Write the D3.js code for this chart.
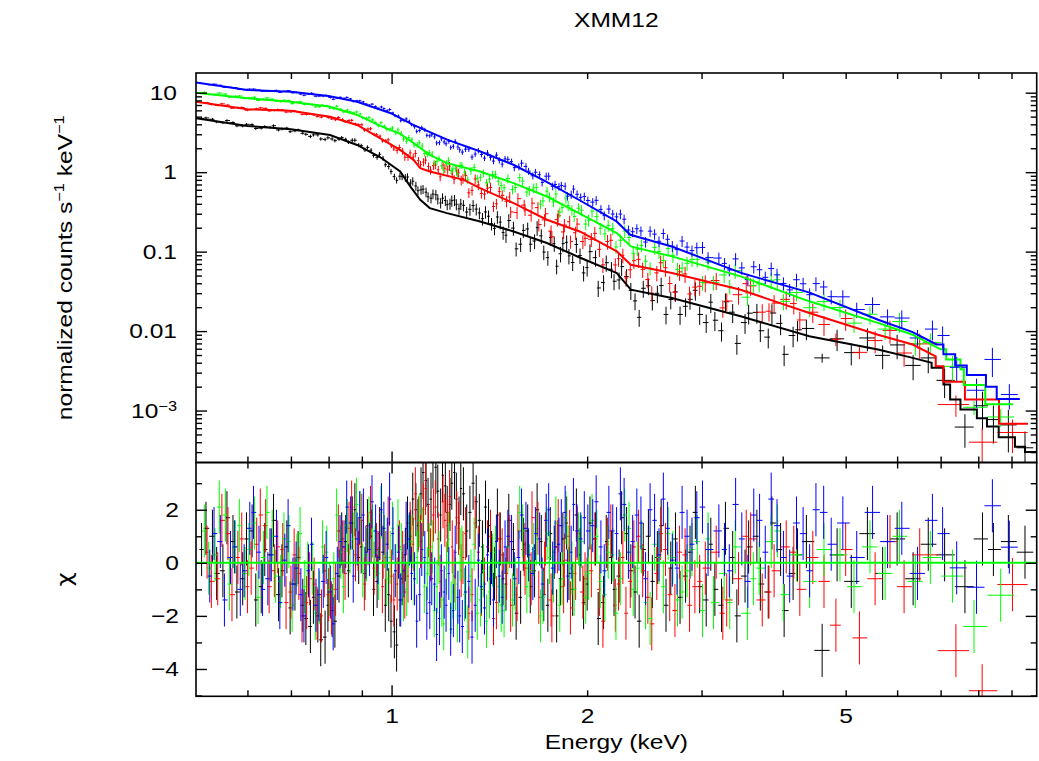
<!DOCTYPE html>
<meta charset="utf-8">
<style>
body { margin: 0; background: #fff; }
svg { display: block; background: #fff; }
text { font-family: "Liberation Sans", Arial, Helvetica, sans-serif; font-size: 21px; fill: #000; }
.frame { fill: none; stroke: #000; stroke-width: 1.6; }
.tick line { stroke: #000; stroke-width: 1.4; }
</style>
<svg width="1039" height="761"></svg>
<script src="https://cdn.jsdelivr.net/npm/d3@7"></script>
<script>

// ---- spectra (four instruments) ----
// energies are bin centres in keV, flux in normalized counts/s/keV,
// err is the 1-sigma error in percent of the flux, chi the delchi residual.
// Each instrument is given as two interleaved sets of bins (E and E2).

var blackE = [0.51,0.53,0.55,0.57,0.59,0.61,0.63,0.65,0.67,0.69,0.71,0.73,0.75,0.77,0.79,
  0.81,0.83,0.85,0.87,0.89,0.91,0.93,0.95,0.97,0.99,
  1.01,1.03,1.05,1.07,1.09,1.11,1.13,1.15,1.17,1.19,1.21,1.23,1.25,1.27,1.29,1.32,1.35,1.38,1.41,1.44,1.47,
  1.50,1.54,1.58,1.62,1.66,1.70,1.74,1.78,1.82,1.86,1.90,1.95,
  2.00,2.06,2.12,2.18,2.24,2.30,2.37,2.44,2.52,2.60,2.69,2.78,2.88,2.98,
  3.10,3.22,3.35,3.50,3.65,3.80,3.97,4.15,4.35,
  4.60,4.85,5.10,5.40,5.70,6.00,6.35,6.70,
  7.10,7.63,8.12,8.44,8.90,9.44];
var blackF = [4.74,4.63,4.20,4.21,3.82,3.96,3.58,3.68,3.40,3.58,3.31,3.09,2.82,2.95,2.58,
  2.62,2.61,2.59,2.52,2.19,1.91,1.89,1.54,1.50,1.18,
  0.88,0.89,0.85,0.73,0.67,0.60,0.56,0.47,0.52,0.41,0.44,0.40,0.445,0.346,0.383,0.341,0.343,0.26,0.279,0.196,0.235,
  0.161,0.198,0.124,0.193,0.136,0.158,0.084,0.126,0.094,0.131,0.073,0.0895,
  0.063,0.084,0.041,0.060,0.044,0.0485,0.024,0.0346,0.0242,0.0375,0.0250,0.0162,0.0251,0.0162,
  0.0231,0.0101,0.0173,0.0128,0.0172,0.0084,0.0125,0.0088,0.0108,
  0.0046,0.0080,0.00536,0.0082,0.00495,0.0067,0.0037,0.0046,
  0.0024,0.00062,0.00115,0.00077,0.00066,0.00034];
var blackErr = [4,4,4,4,4,4,4,4,4,4,4,4,5,5,5,
  5,5,5,6,6,6,6,7,7,8,
  9,10,11,12,13,13,14,14,15,15,15,16,16,16,16,17,17,18,18,18,19,
  20,20,20,20,21,21,21,21,22,22,22,22,
  23,23,23,23,24,24,24,24,25,25,25,26,26,26,
  27,27,27,28,28,28,29,29,29,
  13,30,31,32,33,34,35,36,
  40,45,50,50,55,60];
var blackChi = [0.5,1.0,-0.3,0.8,-0.6,1.2,-0.9,0.3,-1.2,0.6,-0.8,-1.6,-2.4,-2.0,-2.8,
  -1.8,-0.5,0.8,1.5,0.2,-0.4,1.0,-0.7,0.4,-1.2,
  -2.6,-1.4,0.3,1.0,2.0,2.6,3.1,2.4,3.6,1.8,2.9,2.2,3.4,1.5,2.6,1.9,2.3,0.6,1.4,-0.4,0.9,
  -0.8,0.5,-1.3,1.2,-0.3,0.8,-1.6,0.4,-0.6,1.5,-1.0,0.3,
  -0.8,0.9,-1.5,0.2,-0.5,1.1,-1.1,0.5,-0.7,1.4,-0.2,-1.3,0.4,-0.9,
  0.7,-1.6,0.2,-0.5,1.0,-1.1,0.5,-0.4,0.8,
  -3.3,0.3,-0.7,1.1,-0.4,0.9,-0.6,0.7,
  0.3,-0.9,0.9,0.5,0.8,0.4];

var blackE2 = [0.518,0.538,0.558,0.578,0.598,0.618,0.638,0.658,0.678,0.698,0.718,0.738,0.758,0.778,0.798,
  0.818,0.838,0.858,0.878,0.898,0.918,0.938,0.958,0.978,0.998,
  1.018,1.038,1.058,1.078,1.098,1.118,1.138,1.158,1.178,1.198,1.218,1.238,1.258,1.278,1.305,1.335,1.365,1.395,1.425,1.455,1.485,
  1.515,1.555,1.595,1.635,1.675,1.715,1.755,1.795,1.835,1.875,1.925,1.975,
  2.02,2.08,2.14,2.20,2.26,2.335,2.405,2.485,2.565,2.645,2.735,2.835,2.935,3.05,
  3.145,3.265,3.40,3.545,3.695,3.85,4.02,4.215];
var blackF2 = [4.81,4.30,4.46,3.83,4.00,3.54,3.75,3.84,3.50,3.23,3.40,2.99,2.95,2.62,2.71,
  2.49,2.72,2.38,2.52,2.15,2.05,1.62,1.68,1.24,1.02,
  0.79,0.88,0.87,0.77,0.585,0.61,0.49,0.53,0.46,0.47,0.39,0.437,0.394,0.398,0.315,0.38,0.307,0.316,0.225,0.273,0.174,
  0.247,0.1085,0.185,0.124,0.200,0.0987,0.151,0.0655,0.126,0.0885,0.123,0.054,
  0.100,0.0349,0.0725,0.0424,0.0648,0.0325,0.0149,0.0372,0.0299,0.0162,0.0312,0.0205,0.0326,0.0128,
  0.0137,0.0234,0.0070,0.0168,0.0101,0.0169,0.0051,0.0104];
var blackErr2 = [4,4,4,4,4,4,4,4,4,4,4,4,5,5,5,
  5,5,5,6,6,6,6,7,7,8,
  9,10,11,12,13,13,14,14,15,15,15,16,16,16,16,17,17,18,18,18,19,
  20,20,20,20,21,21,21,21,22,22,22,22,
  23,23,23,23,24,24,24,24,25,25,25,26,26,26,
  27,27,28,28,28,29,29,29];
var blackChi2 = [1.3,-0.4,1.7,-1.1,0.9,-1.4,0.5,1.6,-0.3,-1.7,0.2,-2.1,-1.3,-2.9,-1.6,
  -2.2,0.9,-0.3,2.0,0.6,1.4,-1.0,1.1,-1.6,-2.2,
  -3.1,-0.6,1.5,2.4,1.4,3.4,2.2,3.8,2.7,3.3,1.9,3.0,2.4,2.8,1.2,3.0,1.6,2.1,0.2,1.8,-0.6,
  1.6,-1.9,0.7,-0.9,2.0,-1.2,1.1,-2.0,0.9,-0.4,1.8,-1.5,
  1.5,-2.1,0.8,-1.0,1.7,-0.3,-2.2,1.0,0.2,-1.6,0.9,-0.5,1.9,-1.4,
  -1.0,1.3,-2.0,0.6,-0.8,1.5,-1.8,0.3];

var redE = [0.52,0.54,0.56,0.58,0.60,0.62,0.64,0.66,0.68,0.70,0.72,0.74,0.76,0.78,0.80,
  0.82,0.84,0.86,0.88,0.90,0.92,0.94,0.96,0.98,1.00,
  1.02,1.04,1.06,1.08,1.10,1.12,1.14,1.16,1.18,1.20,1.22,1.24,1.26,1.28,1.30,1.33,1.36,1.39,1.42,1.45,1.48,
  1.52,1.56,1.60,1.64,1.68,1.72,1.76,1.80,1.84,1.88,1.92,1.97,
  2.03,2.09,2.15,2.21,2.27,2.33,2.40,2.48,2.56,2.64,2.73,2.83,2.93,3.04,
  3.16,3.28,3.42,3.57,3.72,3.88,4.05,4.25,4.45,4.63,
  4.83,5.00,5.25,5.55,5.85,6.15,6.50,
  7.39,8.11,9.03];
var redF = [7.47,6.92,6.97,6.50,6.02,6.27,6.35,5.99,6.08,5.74,5.68,5.32,5.26,4.91,4.85,
  4.57,4.60,4.46,4.04,3.95,3.49,2.99,2.84,2.47,2.14,
  1.88,1.84,1.54,1.55,1.40,1.34,1.18,1.21,1.07,1.22,1.07,0.95,1.04,0.79,0.91,0.59,0.69,0.53,0.64,0.40,0.51,
  0.485,0.31,0.385,0.287,0.358,0.251,0.181,0.253,0.177,0.238,0.173,0.134,
  0.143,0.107,0.134,0.068,0.090,0.059,0.080,0.0445,0.054,0.0627,0.0309,0.0524,0.0358,0.0405,
  0.0433,0.0239,0.0287,0.0371,0.0173,0.0225,0.0251,0.0138,0.0173,0.0121,
  0.0079,0.0144,0.0054,0.0076,0.0102,0.0053,0.0069,
  0.00119,0.0004,0.00053];
var redErr = [3,3,3,3,3,3,3,3,3,3,3,3,3,3,3,
  4,4,4,4,5,5,5,5,6,6,
  9,10,10,11,11,12,12,12,12,13,13,13,13,14,14,14,14,15,15,15,16,
  16,17,17,17,18,18,18,18,19,19,19,20,
  20,20,21,21,21,22,22,22,22,23,23,23,24,24,
  24,25,25,25,26,26,26,27,27,28,
  18,30,18,31,32,33,35,
  30,50,45];
var redChi = [0.4,-0.6,1.1,0.2,-0.9,0.7,1.4,-0.3,0.5,-1.1,-0.4,-1.5,-0.8,-2.0,-1.2,
  -1.0,0.6,1.3,0.3,1.6,0.9,-0.2,1.1,0.2,-0.5,
  -0.8,0.2,-0.5,0.7,1.5,2.0,1.2,1.8,0.9,2.3,1.4,0.6,1.7,-0.3,1.1,-1.2,0.4,-0.8,1.0,-1.5,0.3,
  0.8,-1.2,0.5,-0.6,1.3,-0.2,-1.4,0.6,-0.9,1.0,-0.4,-1.1,
  -0.3,-1.0,0.7,-1.6,0.2,-0.7,1.0,-1.3,-0.4,0.5,-1.8,0.3,-0.9,-0.2,
  0.4,-1.4,-0.6,0.9,-1.4,-0.3,0.6,-1.0,0.2,-0.7,
  -2.35,0.5,-2.83,-0.6,0.8,-0.9,0.3,
  -3.31,-4.82,-0.82];

var redE2 = [0.528,0.548,0.568,0.588,0.608,0.628,0.648,0.668,0.688,0.708,0.728,0.748,0.768,0.788,0.808,
  0.828,0.848,0.868,0.888,0.908,0.928,0.948,0.968,0.988,1.008,
  1.028,1.048,1.068,1.088,1.108,1.128,1.148,1.168,1.188,1.208,1.228,1.248,1.268,1.288,1.315,1.345,1.375,1.405,1.435,1.465,1.503,
  1.525,1.565,1.605,1.645,1.685,1.725,1.765,1.805,1.845,1.885,1.93,1.985,
  2.055,2.115,2.175,2.235,2.295,2.36,2.435,2.515,2.595,2.68,2.775,2.875,2.98,
  3.235,3.515,3.81,4.16];
var redF2 = [7.10,7.25,6.39,6.52,6.13,6.45,5.91,6.13,5.70,5.91,5.34,5.40,5.02,5.09,4.67,
  4.87,4.32,4.49,3.97,3.39,3.52,2.96,2.47,2.55,1.96,
  2.04,1.54,1.75,1.72,1.25,1.42,1.06,1.23,0.874,1.12,1.19,0.81,0.98,0.83,0.55,0.82,0.54,0.63,0.37,0.57,0.43,
  0.316,0.464,0.338,0.407,0.219,0.30,0.154,0.283,0.216,0.134,0.222,0.147,
  0.170,0.0683,0.139,0.0815,0.0466,0.077,0.0598,0.030,0.0724,0.0397,0.0557,0.0293,0.0367,
  0.0196,0.0395,0.0178,0.0222];
var redErr2 = [3,3,3,3,3,3,3,3,3,3,3,3,3,3,3,
  4,4,4,4,5,5,5,5,6,6,
  9,10,10,11,11,12,12,12,12,13,13,13,13,14,14,14,14,15,15,15,16,
  16,17,17,17,18,18,18,18,19,19,19,20,
  20,21,21,21,22,22,22,22,23,23,23,24,24,
  25,25,26,27];
var redChi2 = [-0.7,1.6,-1.2,0.9,-0.2,1.8,-0.9,0.6,-1.5,0.3,-2.0,-0.6,-1.9,-0.3,-1.7,
  1.2,-0.4,2.1,0.7,-0.8,1.9,0.5,-0.9,1.5,-1.4,
  0.6,-1.1,1.3,2.6,0.8,2.8,0.3,2.1,-0.7,1.6,2.5,-0.5,1.3,0.2,-1.9,1.5,-1.0,0.6,-2.1,0.9,-0.4,
  -1.6,1.2,-0.2,1.7,-1.3,0.9,-2.0,1.4,0.1,-1.7,1.1,-0.6,
  0.9,-2.2,1.2,-0.8,-1.9,0.6,-0.3,-2.3,1.1,-1.2,0.4,-1.6,-0.7,
  -1.9,1.0,-1.1,0.4];

var greenE = [0.515,0.535,0.555,0.575,0.595,0.615,0.635,0.655,0.675,0.695,0.715,0.735,0.755,0.775,0.795,
  0.815,0.835,0.855,0.875,0.895,0.915,0.935,0.955,0.975,0.995,
  1.015,1.035,1.055,1.075,1.095,1.115,1.135,1.155,1.175,1.195,1.215,1.235,1.255,1.275,1.295,1.325,1.355,1.385,1.415,1.445,1.475,
  1.51,1.55,1.59,1.63,1.67,1.71,1.75,1.79,1.83,1.87,1.91,1.96,
  2.01,2.07,2.13,2.19,2.25,2.32,2.39,2.46,2.54,2.62,2.71,2.80,2.90,3.01,
  3.13,3.25,3.38,3.53,3.68,3.84,4.01,4.20,4.40,4.63,
  4.90,5.15,5.45,5.75,6.05,6.40,6.75,
  7.30,7.88,8.66];
var greenF = [10.1,9.52,9.61,9.00,8.46,8.76,8.26,8.29,7.72,7.93,7.56,7.13,7.08,6.65,6.84,
  6.31,6.19,6.06,5.60,5.39,4.73,4.56,3.85,3.80,3.46,
  3.14,3.07,2.45,2.56,2.20,2.14,1.68,1.69,1.37,1.20,1.28,1.05,1.12,1.22,1.00,1.04,0.83,0.97,0.82,0.93,0.68,
  0.83,0.64,0.77,0.59,0.645,0.434,0.488,0.53,0.358,0.38,0.277,0.332,
  0.248,0.276,0.167,0.195,0.139,0.151,0.107,0.0758,0.113,0.0775,0.090,0.062,0.0798,0.0407,
  0.041,0.0508,0.058,0.0267,0.0394,0.0436,0.0237,0.0306,0.0197,0.0235,
  0.0198,0.0126,0.0163,0.0106,0.0132,0.0069,0.0072,
  0.0036,0.0011,0.00083];
var greenErr = [3,3,3,3,3,3,3,3,3,3,3,3,3,3,3,
  4,4,4,4,4,5,5,5,5,6,
  7,7,8,8,8,9,9,9,9,10,10,10,10,10,11,11,11,11,12,12,12,
  13,13,13,14,14,14,14,15,15,15,15,16,
  17,17,17,18,18,18,18,19,19,19,20,20,20,21,
  21,21,22,22,22,23,23,23,24,24,
  25,25,26,27,28,29,30,
  35,20,25];
var greenChi = [1.2,0.3,1.8,0.6,-0.4,1.5,0.2,1.0,-0.7,0.8,0.1,-0.9,-0.2,-1.3,0.4,
  -0.6,0.4,1.4,0.9,1.7,0.3,1.2,-0.4,0.8,0.2,
  -0.3,0.5,-1.0,0.8,0.2,1.1,-0.4,0.6,-0.9,-1.4,-0.2,-1.7,-0.8,0.3,-1.2,-0.5,-1.9,-0.3,-1.1,0.4,-1.6,
  0.6,-0.8,1.2,-0.3,0.9,-1.3,0.2,1.5,-0.6,0.4,-1.0,0.8,
  -0.4,1.0,-1.2,0.3,-0.6,1.3,-0.2,-1.5,0.7,-0.9,0.2,-1.1,0.5,-1.8,
  -1.5,-0.4,0.6,-1.9,-0.2,0.8,-1.2,0.3,-0.7,0.5,
  0.3,-0.9,0.6,-0.4,1.0,-0.7,0.2,
  -0.5,-2.4,-1.22];

var greenE2 = [0.523,0.543,0.563,0.583,0.603,0.623,0.643,0.663,0.683,0.703,0.723,0.743,0.763,0.783,0.803,
  0.823,0.843,0.863,0.883,0.903,0.923,0.943,0.963,0.983,1.003,
  1.023,1.043,1.063,1.083,1.103,1.123,1.143,1.163,1.183,1.203,1.223,1.243,1.263,1.283,1.31,1.34,1.37,1.40,1.43,1.46,1.49,
  1.535,1.575,1.615,1.655,1.695,1.735,1.775,1.815,1.855,1.895,1.94,1.99,
  2.035,2.095,2.155,2.215,2.285,2.355,2.425,2.50,2.58,2.665,2.755,2.85,2.955,
  3.07,3.315,3.605,3.925];
var greenF2 = [9.56,9.89,8.78,9.10,8.62,7.99,8.60,7.87,8.04,7.29,7.71,7.21,6.64,6.98,6.44,
  6.76,5.74,5.74,5.73,4.83,4.86,4.23,4.18,3.45,3.59,
  3.41,2.61,2.72,2.20,2.35,1.72,1.76,1.31,1.48,1.05,1.41,1.10,0.96,1.22,0.80,1.15,0.86,0.735,0.93,0.77,0.635,
  0.603,0.854,0.562,0.631,0.395,0.577,0.422,0.313,0.471,0.333,0.352,0.222,
  0.323,0.197,0.214,0.1145,0.181,0.0951,0.120,0.0619,0.100,0.109,0.0598,0.0714,0.080,
  0.0737,0.0364,0.0375,0.0444];
var greenErr2 = [3,3,3,3,3,3,3,3,3,3,3,3,3,3,3,
  4,4,4,4,4,5,5,5,5,6,
  7,7,8,8,8,9,9,9,9,10,10,10,10,10,11,11,11,11,12,12,12,
  13,13,13,14,14,14,14,15,15,15,15,16,
  17,17,17,18,18,18,18,19,19,19,20,20,20,
  21,21,22,23];
var greenChi2 = [-0.2,2.1,-0.8,1.4,0.5,-1.3,1.9,-0.5,0.9,-1.6,1.1,-0.2,-1.9,0.6,-1.0,
  1.8,-0.9,0.6,2.2,-0.3,1.5,0.4,1.9,-0.6,1.3,
  1.4,-1.2,0.8,-0.6,1.6,-0.9,0.5,-1.8,0.2,-2.3,0.9,-1.1,-2.0,0.4,-2.6,0.7,-1.4,-2.2,0.1,-0.9,-1.8,
  -1.4,1.9,-0.9,0.5,-2.0,1.1,-0.5,-1.6,1.7,-0.2,0.9,-1.3,
  1.6,-0.7,0.4,-1.9,1.8,-1.0,0.6,-2.1,0.2,1.1,-1.4,-0.3,0.8,
  0.9,-1.5,-0.6,1.2];

var blueE = [0.525,0.545,0.565,0.585,0.605,0.625,0.645,0.665,0.685,0.705,0.725,0.745,0.765,0.785,0.805,
  0.825,0.845,0.865,0.885,0.905,0.925,0.945,0.965,0.985,1.005,
  1.025,1.045,1.065,1.085,1.105,1.125,1.145,1.165,1.185,1.205,1.225,1.245,1.265,1.285,1.315,1.345,1.375,1.405,1.435,1.465,1.495,
  1.53,1.57,1.61,1.65,1.69,1.73,1.77,1.81,1.85,1.89,1.93,1.98,
  2.04,2.10,2.16,2.22,2.28,2.35,2.42,2.50,2.58,2.66,2.75,2.85,2.95,3.07,
  3.19,3.31,3.46,3.61,3.76,3.92,4.10,4.30,4.50,4.75,
  4.95,5.20,5.50,5.80,6.10,6.45,6.80,
  7.05,7.41,7.95,8.41,8.93];
var blueF = [12.6,12.4,11.7,11.0,11.1,10.8,10.4,10.7,10.4,9.98,9.62,9.64,9.04,9.08,8.72,
  8.58,8.48,8.36,7.91,7.66,6.97,6.72,6.62,5.94,5.56,
  5.05,4.47,4.37,3.73,3.35,3.41,2.87,2.78,2.35,2.40,2.45,2.11,2.07,1.79,1.95,1.69,1.67,1.74,1.38,1.41,1.47,
  1.36,1.17,1.18,0.90,0.93,0.89,0.665,0.657,0.665,0.524,0.526,0.494,
  0.42,0.34,0.343,0.274,0.256,0.178,0.182,0.181,0.135,0.143,0.106,0.114,0.112,0.084,
  0.083,0.0588,0.0624,0.0645,0.0475,0.051,0.033,0.0394,0.0396,0.0271,
  0.027,0.0187,0.0216,0.0151,0.0146,0.0082,0.0106,
  0.0088,0.0035,0.0018,0.0044,0.00159];
var blueErr = [2,2,2,2,2,2,2,2,2,3,3,3,3,3,3,
  3,3,3,3,3,3,3,4,4,4,
  5,5,5,6,6,6,6,7,7,7,7,7,8,8,8,8,8,9,9,9,9,
  9,10,10,10,10,11,11,11,11,12,12,12,
  12,13,13,13,14,14,14,15,15,15,16,16,16,17,
  17,17,18,18,18,19,19,19,20,20,
  21,22,23,24,25,26,28,
  30,35,40,40,35];
var blueChi = [-0.5,0.8,0.2,-1.0,1.3,0.4,-0.6,1.0,0.1,-0.8,-1.2,-0.3,-1.6,-0.7,-1.1,
  -0.4,0.6,1.5,0.9,1.8,0.5,1.2,2.0,0.7,1.1,
  0.4,-0.3,0.9,-0.6,-1.2,0.2,-1.5,-0.8,-2.1,-1.1,-0.4,-1.8,-1.3,-2.4,-0.7,-1.6,-0.9,0.3,-1.4,-0.5,0.6,
  0.8,0.2,1.3,-0.4,0.9,1.6,-0.2,0.7,1.9,0.4,1.2,1.7,
  1.4,0.6,1.9,1.1,2.2,0.8,1.5,2.0,0.3,1.3,-0.2,1.0,1.7,0.5,
  1.2,-0.3,0.9,1.8,0.4,1.4,-0.5,1.1,2.0,0.7,
  1.5,0.2,1.9,0.8,1.3,-0.4,1.6,
  1.1,-0.19,-0.92,2.15,0.59];

var blueE2 = [0.533,0.553,0.573,0.593,0.613,0.633,0.653,0.673,0.693,0.713,0.733,0.753,0.773,0.793,0.813,
  0.833,0.853,0.873,0.893,0.913,0.933,0.953,0.973,0.993,1.013,
  1.033,1.053,1.073,1.093,1.113,1.133,1.153,1.173,1.193,1.213,1.233,1.253,1.273,1.30,1.33,1.36,1.39,1.42,1.45,1.48,1.51,
  1.545,1.585,1.625,1.665,1.705,1.745,1.785,1.825,1.865,1.905,1.955,2.005,
  2.065,2.125,2.19,2.25,2.315,2.385,2.46,2.54,2.62,2.705,2.80,2.90,3.01,
  3.255,3.385,3.535,3.685,3.84,4.01,4.20,4.40,4.625];
var blueF2 = [12.8,11.7,11.6,10.9,11.1,10.4,10.6,10.1,10.6,10.1,9.29,9.84,9.07,9.23,8.27,
  8.74,8.72,7.76,7.91,7.20,7.18,6.38,6.30,6.14,5.12,
  4.45,4.68,3.97,3.26,3.62,2.91,2.96,2.33,2.63,2.28,2.04,2.44,1.91,1.95,1.55,1.87,1.50,1.54,1.64,1.26,1.45,
  1.14,1.30,1.03,1.00,0.743,0.891,0.698,0.681,0.498,0.613,0.482,0.440,
  0.442,0.284,0.297,0.297,0.187,0.194,0.132,0.166,0.169,0.117,0.136,0.103,0.113,
  0.0711,0.081,0.0446,0.0592,0.0612,0.0398,0.0443,0.0287,0.0359];
var blueErr2 = [2,2,2,2,2,2,2,2,2,3,3,3,3,3,3,
  3,3,3,3,3,3,3,4,4,4,
  5,5,5,6,6,6,6,7,7,7,7,7,8,8,8,8,8,9,9,9,9,
  10,10,10,10,11,11,11,11,12,12,12,12,
  13,13,13,14,14,14,15,15,15,16,16,16,17,
  17,18,18,18,19,19,19,20,20];
var blueChi2 = [1.1,-1.4,0.6,-0.3,1.9,-1.0,0.3,-1.5,1.4,-0.2,-2.0,0.7,-1.2,0.2,-2.3,
  0.8,2.1,-0.5,1.7,0.4,2.3,0.2,1.3,2.4,-0.3,
  -1.4,1.3,-0.4,-2.2,0.5,-1.9,-0.6,-2.7,-0.3,-1.6,-2.5,0.4,-2.0,-1.1,-2.8,0.1,-1.7,-0.6,0.8,-1.3,1.0,
  -0.6,1.8,0.3,1.1,-0.8,2.0,0.6,1.4,-0.5,2.2,0.9,1.2,
  2.3,-0.3,1.2,2.6,0.4,1.8,-0.6,1.6,2.4,0.1,1.9,0.7,2.1,
  0.5,2.2,-0.7,1.6,2.4,0.2,1.5,-0.3,1.9];

// folded model curves: smooth part, then the coarse high-energy bins (edges / levels)
var blackModelE = [0.5,0.6,0.7,0.804,0.885,0.961,1.031,1.069,1.107,1.145,1.217,1.369,1.541,1.734,1.952,2.222,2.335,2.701,3.446,4.395,5.606,6.34,6.78];
var blackModelF = [4.77,3.82,3.47,2.94,2.20,1.54,1.02,0.659,0.449,0.353,0.305,0.2395,0.1794,0.1283,0.0838,0.0538,0.0332,0.0261,0.01534,0.0086,0.00586,0.0046,0.0040];
var blackStepE = [6.78,7.07,7.24,7.51,7.96,8.25,8.60,9.11,9.44,9.84];
var blackStepF = [0.00345,0.00213,0.00138,0.00103,0.00080,0.00063,0.00046,0.00035,0.00030];

var redModelE = [0.5,0.6,0.7,0.804,0.885,0.961,1.031,1.081,1.107,1.145,1.291,1.369,1.541,1.734,1.952,2.222,2.335,2.701,3.446,4.395,5.606,6.34,6.88];
var redModelF = [7.71,6.19,5.94,4.99,3.93,2.67,1.91,1.43,1.12,1.02,0.80,0.63,0.408,0.252,0.178,0.1006,0.0684,0.0538,0.0332,0.0169,0.0090,0.00677,0.0048];
var redStepE = [6.88,7.07,7.63,8.61,9.54];
var redStepF = [0.0036,0.0023,0.00138,0.00068];

var greenModelE = [0.5,0.6,0.7,0.804,0.885,0.961,1.031,1.081,1.145,1.217,1.369,1.541,1.734,1.952,2.222,2.335,2.701,3.446,4.395,5.606,6.34,7.0];
var greenModelF = [10.0,8.51,7.71,6.67,5.25,3.82,3.03,2.33,1.65,1.30,1.02,0.727,0.494,0.299,0.1713,0.1162,0.0871,0.0488,0.0237,0.0127,0.0090,0.0059];
var greenStepE = [7.0,7.14,7.51,7.60,8.20,9.05];
var greenStepF = [0.0059,0.0044,0.0033,0.0021,0.0012];

var blueModelE = [0.5,0.6,0.7,0.8,0.885,0.995,1.08,1.22,1.37,1.54,1.73,1.95,2.22,2.33,2.70,3.45,4.40,5.61,6.34,6.90];
var blueModelF = [13.4,10.8,10.3,9.1,7.7,5.56,3.93,2.55,1.82,1.24,0.76,0.44,0.24,0.163,0.116,0.054,0.0305,0.0139,0.0097,0.0068];
var blueStepE = [6.90,7.07,7.37,7.68,8.22,8.54,9.27];
var blueStepF = [0.0068,0.0051,0.0037,0.0028,0.0020,0.0014];

// axis ticks
var energyTicks = [1, 2, 5];
var energyMajor = [1];
var energyMinor = [0.6, 0.7, 0.8, 0.9, 2, 3, 4, 5, 6, 7, 8, 9];
var fluxTicks = [10, 1, 0.1, 0.01, 0.001];
var fluxLabels = ["10", "1", "0.1", "0.01", "10"];
var chiTicks = [-4, -2, 0, 2];
var chiMinor = [-5, -3, -1, 1, 3];

var svg = d3.select("svg"),
    frame = {left: 196, right: 1036.7, top: 73, mid: 462.5, bottom: 696.3},
    stretch = 1.17;

var x = d3.scaleLog().domain([0.5, 9.84]).range([frame.left, frame.right]),
    yTop = d3.scaleLog().domain([2.22e-4, 17.7]).range([frame.mid, frame.top]),
    yChi = d3.scaleLinear().domain([-5.03, 3.78]).range([frame.bottom, frame.mid]);

var fluxMinor = [];
[-4, -3, -2, -1, 0, 1].forEach(function(p) {
  for (var k = 2; k <= 9; k++) {
    var v = k * Math.pow(10, p);
    if (v > 2.22e-4 && v < 17.7) fluxMinor.push(v);
  }
});

var series = [
  {color: "#000000", E: blackE.concat(blackE2), F: blackF.concat(blackF2), err: blackErr.concat(blackErr2), chi: blackChi.concat(blackChi2),
   mE: blackModelE, mF: blackModelF, sE: blackStepE, sF: blackStepF},
  {color: "#ff0000", E: redE.concat(redE2), F: redF.concat(redF2), err: redErr.concat(redErr2), chi: redChi.concat(redChi2),
   mE: redModelE, mF: redModelF, sE: redStepE, sF: redStepF},
  {color: "#00ff00", E: greenE.concat(greenE2), F: greenF.concat(greenF2), err: greenErr.concat(greenErr2), chi: greenChi.concat(greenChi2),
   mE: greenModelE, mF: greenModelF, sE: greenStepE, sF: greenStepF},
  {color: "#0000ff", E: blueE.concat(blueE2), F: blueF.concat(blueF2), err: blueErr.concat(blueErr2), chi: blueChi.concat(blueChi2),
   mE: blueModelE, mF: blueModelF, sE: blueStepE, sF: blueStepF}
];

// sort the bins by energy, then put edges halfway (in log) between neighbouring centres
series.forEach(function(s) {
  var b = s.E.map(function(e, i) {
    return {e: e, f: s.F[i], rel: s.err[i] / 100, chi: s.chi[i]};
  }).sort(function(a, c) { return a.e - c.e; });
  var n = b.length;
  for (var i = 0; i < n; i++)
    b[i].lo = i > 0 ? Math.sqrt(b[i - 1].e * b[i].e) : b[0].e * b[0].e / Math.sqrt(b[0].e * b[1].e);
  for (i = 0; i < n; i++)
    b[i].hi = i < n - 1 ? b[i + 1].lo : b[i].e * b[i].e / b[i].lo;
  s.bins = b;
});

var defs = svg.append("defs");
defs.append("clipPath").attr("id", "clipTop").append("rect")
    .attr("x", frame.left).attr("y", frame.top)
    .attr("width", frame.right - frame.left).attr("height", frame.mid - frame.top);
defs.append("clipPath").attr("id", "clipBot").append("rect")
    .attr("x", frame.left).attr("y", frame.mid)
    .attr("width", frame.right - frame.left).attr("height", frame.bottom - frame.mid);

var gTop = svg.append("g").attr("clip-path", "url(#clipTop)"),
    gBot = svg.append("g").attr("clip-path", "url(#clipBot)");

// data crosses
series.forEach(function(s) {
  var top = "", bot = "";
  s.bins.forEach(function(d) {
    var xc = x(d.e), x0 = x(d.lo), x1 = x(d.hi);
    var yf = yTop(d.f), ylo = yTop(Math.max(d.f * (1 - d.rel), 1e-6)), yhi = yTop(d.f * (1 + d.rel));
    top += "M" + x0 + "," + yf + "H" + x1 + "M" + xc + "," + ylo + "V" + yhi;
    bot += "M" + x0 + "," + yChi(d.chi) + "H" + x1 + "M" + xc + "," + yChi(d.chi - 1) + "V" + yChi(d.chi + 1);
  });
  gTop.append("path").attr("d", top).attr("fill", "none").attr("stroke", s.color).attr("stroke-width", 1);
  gBot.append("path").attr("d", bot).attr("fill", "none").attr("stroke", s.color).attr("stroke-width", 1);
});

// model lines on top of the data
var line = d3.line().x(function(d) { return x(d[0]); }).y(function(d) { return yTop(d[1]); });
series.forEach(function(s) {
  var pts = s.mE.map(function(e, i) { return [e, s.mF[i]]; });
  s.sF.forEach(function(f, i) { pts.push([s.sE[i], f], [s.sE[i + 1], f]); });
  gTop.append("path").datum(pts).attr("d", line)
      .attr("fill", "none").attr("stroke", s.color).attr("stroke-width", 2);
});

// zero line of the residuals
gBot.append("line")
    .attr("x1", frame.left).attr("x2", frame.right)
    .attr("y1", yChi(0)).attr("y2", yChi(0))
    .attr("stroke", "#00ff00").attr("stroke-width", 2);

// frames
svg.append("rect").attr("class", "frame")
    .attr("x", frame.left).attr("y", frame.top)
    .attr("width", frame.right - frame.left).attr("height", frame.mid - frame.top);
svg.append("rect").attr("class", "frame")
    .attr("x", frame.left).attr("y", frame.mid)
    .attr("width", frame.right - frame.left).attr("height", frame.bottom - frame.mid);

// inward ticks on every side
function ticks(axis, values, size, at) {
  var g = svg.append("g").attr("transform", at)
      .call(axis.tickValues(values).tickSize(-size).tickFormat(""));
  g.select(".domain").remove();
  return g;
}
var atTop = "translate(0," + frame.top + ")",
    atMid = "translate(0," + frame.mid + ")",
    atBot = "translate(0," + frame.bottom + ")",
    atLeft = "translate(" + frame.left + ",0)",
    atRight = "translate(" + frame.right + ",0)";

ticks(d3.axisTop(x), energyMajor, 11, atTop);
ticks(d3.axisTop(x), energyMinor, 6, atTop);
ticks(d3.axisBottom(x), energyMajor, 11, atMid);
ticks(d3.axisBottom(x), energyMinor, 6, atMid);
ticks(d3.axisTop(x), energyMajor, 11, atMid);
ticks(d3.axisTop(x), energyMinor, 6, atMid);
ticks(d3.axisBottom(x), energyMajor, 11, atBot);
ticks(d3.axisBottom(x), energyMinor, 6, atBot);

ticks(d3.axisLeft(yTop), fluxTicks, 11, atLeft);
ticks(d3.axisLeft(yTop), fluxMinor, 6, atLeft);
ticks(d3.axisRight(yTop), fluxTicks, 11, atRight);
ticks(d3.axisRight(yTop), fluxMinor, 6, atRight);
ticks(d3.axisLeft(yChi), chiTicks, 11, atLeft);
ticks(d3.axisLeft(yChi), chiMinor, 6, atLeft);
ticks(d3.axisRight(yChi), chiTicks, 11, atRight);
ticks(d3.axisRight(yChi), chiMinor, 6, atRight);

// tick labels (the original lettering is a little wide, hence the stretch)
function labelAxis(axis, at, pad) {
  var g = svg.append("g").attr("transform", at).call(axis.tickSize(0).tickPadding(pad));
  g.select(".domain").remove();
  g.attr("font-size", null).attr("font-family", null);
  g.selectAll("text").each(function() {
    var t = d3.select(this), xx = t.attr("x");
    if (xx != null) t.attr("x", +xx / stretch);
    t.attr("transform", "scale(" + stretch + ",1)");
  });
  return g;
}
var fluxAxis = labelAxis(d3.axisLeft(yTop).tickValues(fluxTicks)
    .tickFormat(function(d, i) { return fluxLabels[i]; }), atLeft, 19);
fluxAxis.selectAll("text").filter(function(d) { return d === 0.001; })
    .append("tspan").attr("dy", "-7").attr("font-size", "14px").text("\u22123");
labelAxis(d3.axisLeft(yChi).tickValues(chiTicks)
    .tickFormat(function(d) { return d < 0 ? "\u2212" + (-d) : String(d); }), atLeft, 17);
labelAxis(d3.axisBottom(x).tickValues(energyTicks).tickFormat(d3.format("d")), atBot, 12);

// titles
function stretched(tx, ty, rot) {
  return svg.append("text")
      .attr("text-anchor", "middle")
      .attr("transform", "translate(" + tx + "," + ty + ")" + (rot ? " rotate(-90)" : "") + " scale(" + stretch + ",1)");
}
var cx = (frame.left + frame.right) / 2;
stretched(cx, 27, false).text("XMM12");
stretched(cx, 749, false).text("Energy (keV)");

var yl = stretched(72, (frame.top + frame.mid) / 2, true);
yl.append("tspan").text("normalized counts s");
yl.append("tspan").attr("dy", "-8").attr("font-size", "14px").text("\u22121");
yl.append("tspan").attr("dy", "8").text(" keV");
yl.append("tspan").attr("dy", "-8").attr("font-size", "14px").text("\u22121");

stretched(72, (frame.mid + frame.bottom) / 2, true)
    .style("font-family", "'DejaVu Sans', sans-serif").text("\u03c7");

</script>
